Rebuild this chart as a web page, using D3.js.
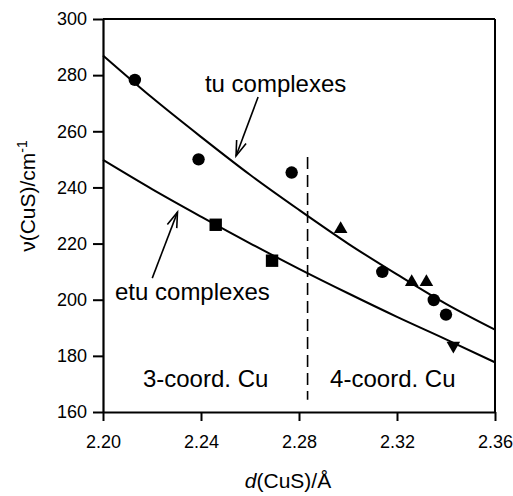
<!DOCTYPE html>
<html>
<head>
<meta charset="utf-8">
<script src="https://cdn.jsdelivr.net/npm/d3@7"></script>
<style>
  body { margin: 0; background: #fff; }
  text { font-family: "Liberation Sans", Arial, Helvetica, sans-serif; fill: #000; }
</style>
</head>
<body>
<div class="chart"></div>
<script>
// Data
var tuX = [2.213, 2.239, 2.277, 2.314, 2.335, 2.340];
var tuY = [278.3, 250.0, 245.3, 209.9, 199.9, 194.7];
var tuTriX = [2.297, 2.326, 2.332];
var tuTriY = [225.2, 206.3, 206.3];
var etuX = [2.246, 2.269];
var etuY = [226.7, 213.9];
var etuDownX = [2.343];
var etuDownY = [183.6];

// fitted curves
var curveX = [2.20, 2.22, 2.24, 2.26, 2.28, 2.30, 2.32, 2.34, 2.36];
var tuCurveY = [287, 272, 258, 244.5, 232, 220, 209, 198.5, 189.3];
var etuCurveY = [249.8, 239.4, 229.6, 220.1, 211.0, 202.3, 193.9, 185.9, 177.7];

var xTicks = [2.20, 2.24, 2.28, 2.32, 2.36];
var yTicks = [160, 180, 200, 220, 240, 260, 280, 300];

var svgWidth = 513;
var svgHeight = 496;
var margin = {top: 19, right: 18, bottom: 84, left: 103};
var width = svgWidth - margin.left - margin.right;
var height = svgHeight - margin.top - margin.bottom;

var svg = d3.select(".chart")
    .append("svg")
    .attr("width", svgWidth)
    .attr("height", svgHeight)
    .style("display", "block");

var chart = svg.append("g")
    .attr("transform", "translate(" + margin.left + "," + margin.top + ")");

var x = d3.scaleLinear().domain([2.20, 2.36]).range([0, width]);
var y = d3.scaleLinear().domain([160, 300]).range([height, 0]);

// axes
var bottomAxis = d3.axisBottom(x)
    .tickValues(xTicks)
    .tickFormat(d3.format(".2f"))
    .tickSize(9)
    .tickPadding(14)
    .tickSizeOuter(0);
var leftAxis = d3.axisLeft(y)
    .tickValues(yTicks)
    .tickSize(10)
    .tickPadding(6)
    .tickSizeOuter(0);

var xAxisG = chart.append("g")
    .attr("transform", "translate(0," + height + ")")
    .call(bottomAxis);
var yAxisG = chart.append("g").call(leftAxis);

[xAxisG, yAxisG].forEach(function(g) {
    g.select(".domain").attr("stroke", "#000").attr("stroke-width", 2.2);
    g.selectAll(".tick line").attr("stroke", "#000").attr("stroke-width", 2);
    g.selectAll(".tick text")
        .style("font-size", "18px")
        .attr("fill", "#000");
});

// top and right frame
chart.append("line")
    .attr("x1", 0).attr("x2", width)
    .attr("y1", 0).attr("y2", 0)
    .attr("stroke", "#000").attr("stroke-width", 2);
chart.append("line")
    .attr("x1", width).attr("x2", width)
    .attr("y1", 0).attr("y2", height)
    .attr("stroke", "#000").attr("stroke-width", 2);

// curves
var line = d3.line()
    .x(function(d) { return x(d[0]); })
    .y(function(d) { return y(d[1]); })
    .curve(d3.curveMonotoneX);

chart.append("path")
    .datum(d3.zip(curveX, tuCurveY))
    .attr("d", line)
    .attr("fill", "none")
    .attr("stroke", "#000")
    .attr("stroke-width", 2);

chart.append("path")
    .datum(d3.zip(curveX, etuCurveY))
    .attr("d", line)
    .attr("fill", "none")
    .attr("stroke", "#000")
    .attr("stroke-width", 2);

// dashed divider
chart.append("line")
    .attr("x1", x(2.2835)).attr("x2", x(2.2835))
    .attr("y1", y(250.8)).attr("y2", y(164.4))
    .attr("stroke", "#000")
    .attr("stroke-width", 1.6)
    .attr("stroke-dasharray", "12,6");

// markers
chart.selectAll(".tu")
    .data(d3.zip(tuX, tuY))
    .enter()
    .append("circle")
    .attr("class", "tu")
    .attr("cx", function(d) { return x(d[0]); })
    .attr("cy", function(d) { return y(d[1]); })
    .attr("r", 6.2)
    .attr("fill", "#000");

chart.selectAll(".tri")
    .data(d3.zip(tuTriX, tuTriY))
    .enter()
    .append("path")
    .attr("class", "tri")
    .attr("d", d3.symbol().type(d3.symbolTriangle).size(80))
    .attr("transform", function(d) { return "translate(" + x(d[0]) + "," + y(d[1]) + ")"; })
    .attr("fill", "#000");

chart.selectAll(".etu")
    .data(d3.zip(etuX, etuY))
    .enter()
    .append("rect")
    .attr("class", "etu")
    .attr("x", function(d) { return x(d[0]) - 6.2; })
    .attr("y", function(d) { return y(d[1]) - 6.2; })
    .attr("width", 12.4)
    .attr("height", 12.4)
    .attr("fill", "#000");

chart.selectAll(".down")
    .data(d3.zip(etuDownX, etuDownY))
    .enter()
    .append("path")
    .attr("class", "down")
    .attr("d", d3.symbol().type(d3.symbolTriangle).size(80))
    .attr("transform", function(d) { return "translate(" + x(d[0]) + "," + y(d[1]) + ") rotate(180)"; })
    .attr("fill", "#000");

// arrows with open heads
function arrow(x0, y0, x1, y1) {
    var px0 = x(x0), py0 = y(y0), px1 = x(x1), py1 = y(y1);
    var ang = Math.atan2(py1 - py0, px1 - px0);
    var len = 16, spread = 0.32;
    chart.append("line")
        .attr("x1", px0).attr("y1", py0)
        .attr("x2", px1).attr("y2", py1)
        .attr("stroke", "#000").attr("stroke-width", 1.6);
    chart.append("path")
        .attr("d", "M" + (px1 - len * Math.cos(ang - spread)) + "," + (py1 - len * Math.sin(ang - spread)) +
            "L" + px1 + "," + py1 +
            "L" + (px1 - len * Math.cos(ang + spread)) + "," + (py1 - len * Math.sin(ang + spread)))
        .attr("fill", "none")
        .attr("stroke", "#000")
        .attr("stroke-width", 1.6);
}
arrow(2.2633, 272.2, 2.2543, 251.2);
arrow(2.2201, 207.7, 2.2304, 231.2);

// annotations
function label(txt, dx, dy) {
    chart.append("text")
        .attr("x", x(dx))
        .attr("y", y(dy))
        .style("font-size", "24px")
        .text(txt);
}
label("tu complexes", 2.2416, 274.0);
label("etu complexes", 2.2049, 200.0);
label("3-coord. Cu", 2.2163, 168.8);
label("4-coord. Cu", 2.2927, 168.8);

// axis titles
var xt = svg.append("text")
    .attr("x", 288)
    .attr("y", 488)
    .attr("text-anchor", "middle")
    .style("font-size", "21px");
xt.append("tspan").style("font-style", "italic").text("d");
xt.append("tspan").text("(CuS)/Å");

var yt = svg.append("text")
    .attr("transform", "translate(35,196) rotate(-90)")
    .attr("text-anchor", "middle")
    .style("font-size", "21px");
yt.append("tspan").text("ν(CuS)/cm");
yt.append("tspan").attr("dy", -8).style("font-size", "14px").text("-1");
</script>
</body>
</html>
